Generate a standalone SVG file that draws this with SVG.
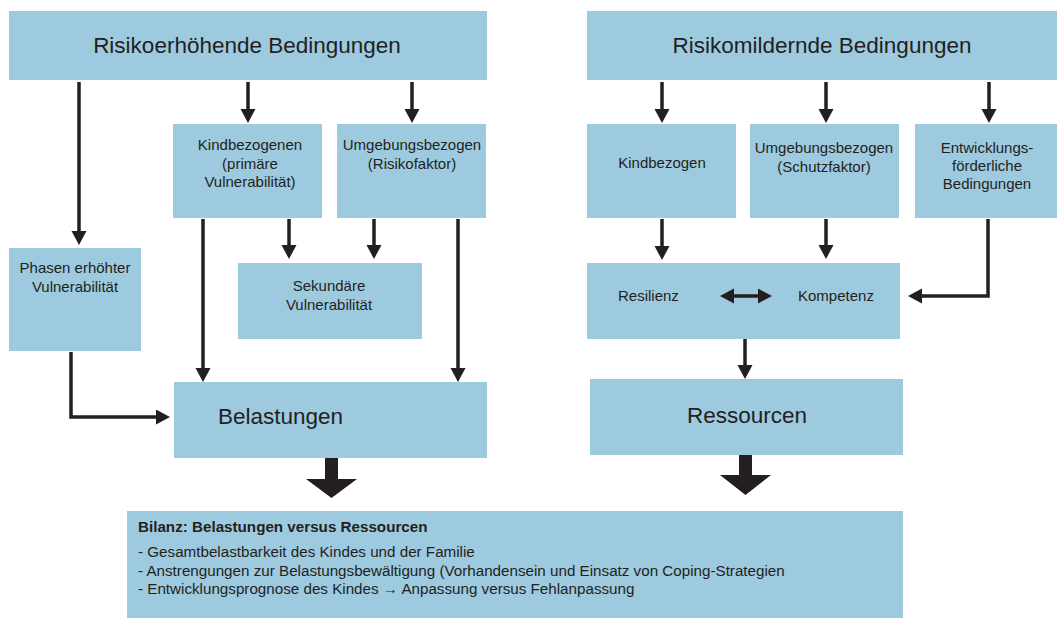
<svg xmlns="http://www.w3.org/2000/svg" width="1057" height="618" viewBox="0 0 1057 618">
<defs>
<style>
.box{fill:#9dcadf;}
.t{font-family:"Liberation Sans",Arial,sans-serif;fill:#231f20;}
.big{font-size:22.5px;}
.sm{font-size:15px;}
.bl{font-size:15.2px;}
.c{text-anchor:middle;}
.b{font-weight:bold;}
.ln{stroke:#231f20;stroke-width:3.5;fill:none;}
.blk{fill:#231f20;}
</style>
<marker id="ah" markerUnits="userSpaceOnUse" markerWidth="16" markerHeight="16" refX="6" refY="7.5" orient="auto">
<path d="M0,0 L14,7.5 L0,15 Z" fill="#231f20"/>
</marker>
<marker id="ahs" markerUnits="userSpaceOnUse" markerWidth="16" markerHeight="16" refX="6" refY="7.5" orient="auto-start-reverse">
<path d="M0,0 L14,7.5 L0,15 Z" fill="#231f20"/>
</marker>
</defs>
<rect width="1057" height="618" fill="#ffffff"/>

<g id="risikoerhoehend">
<rect class="box" x="9" y="11" width="478" height="69"/>
<text class="t big c" x="247" y="53">Risikoerhöhende Bedingungen</text>
</g>
<g id="risikomildernd">
<rect class="box" x="587" y="11" width="470" height="69"/>
<text class="t big c" x="822" y="53">Risikomildernde Bedingungen</text>
</g>
<g id="kindbezogenen">
<rect class="box" x="173" y="124" width="149" height="94"/>
<text class="t sm c" x="250" y="150">Kindbezogenen</text>
<text class="t sm c" x="250" y="168.5">(primäre</text>
<text class="t sm c" x="250" y="187">Vulnerabilität)</text>
</g>
<g id="umgebung-risiko">
<rect class="box" x="337" y="124" width="149" height="94"/>
<text class="t sm c" x="412" y="150">Umgebungsbezogen</text>
<text class="t sm c" x="412" y="168.5">(Risikofaktor)</text>
</g>
<g id="phasen">
<rect class="box" x="9" y="248" width="132" height="103"/>
<text class="t sm c" x="75" y="273">Phasen erhöhter</text>
<text class="t sm c" x="75" y="292">Vulnerabilität</text>
</g>
<g id="sekundaer">
<rect class="box" x="238" y="263" width="184" height="76"/>
<text class="t sm c" x="329" y="291">Sekundäre</text>
<text class="t sm c" x="329" y="310">Vulnerabilität</text>
</g>
<g id="belastungen">
<rect class="box" x="174" y="382" width="313" height="76"/>
<text class="t big" x="218" y="424">Belastungen</text>
</g>
<g id="kindbezogen">
<rect class="box" x="587" y="124" width="149" height="94"/>
<text class="t sm c" x="662" y="168">Kindbezogen</text>
</g>
<g id="umgebung-schutz">
<rect class="box" x="750" y="124" width="149" height="94"/>
<text class="t sm c" x="824" y="153">Umgebungsbezogen</text>
<text class="t sm c" x="824" y="171.5">(Schutzfaktor)</text>
</g>
<g id="entwicklung">
<rect class="box" x="915" y="124" width="142" height="94"/>
<text class="t sm c" x="987" y="153">Entwicklungs-</text>
<text class="t sm c" x="987" y="171">förderliche</text>
<text class="t sm c" x="987" y="189">Bedingungen</text>
</g>
<g id="resilienz-kompetenz">
<rect class="box" x="587" y="263" width="313" height="76"/>
<text class="t sm" x="618" y="301">Resilienz</text>
<text class="t sm" x="798" y="301">Kompetenz</text>
</g>
<g id="ressourcen">
<rect class="box" x="590" y="379" width="313" height="76"/>
<text class="t big c" x="747" y="423">Ressourcen</text>
</g>
<g id="bilanz">
<rect class="box" x="127" y="511" width="776" height="107"/>
<text class="t b bl" x="138" y="532">Bilanz: Belastungen versus Ressourcen</text>
<text class="t bl" x="138" y="557">- Gesamtbelastbarkeit des Kindes und der Familie</text>
<text class="t bl" x="138" y="576">- Anstrengungen zur Belastungsbewältigung (Vorhandensein und Einsatz von Coping-Strategien</text>
<text class="t bl" x="138" y="594">- Entwicklungsprognose des Kindes → Anpassung versus Fehlanpassung</text>
</g>

<g id="connectors">
<line class="ln" x1="79" y1="82" x2="79" y2="237" marker-end="url(#ah)"/>
<line class="ln" x1="248" y1="82" x2="248" y2="115" marker-end="url(#ah)"/>
<line class="ln" x1="412" y1="82" x2="412" y2="115" marker-end="url(#ah)"/>
<line class="ln" x1="203" y1="219" x2="203" y2="374" marker-end="url(#ah)"/>
<line class="ln" x1="289" y1="219" x2="289" y2="251" marker-end="url(#ah)"/>
<line class="ln" x1="374" y1="219" x2="374" y2="251" marker-end="url(#ah)"/>
<line class="ln" x1="458" y1="219" x2="458" y2="374" marker-end="url(#ah)"/>
<polyline class="ln" points="71,352 71,417 162,417" marker-end="url(#ah)"/>
<line class="ln" x1="662" y1="82" x2="662" y2="115" marker-end="url(#ah)"/>
<line class="ln" x1="826" y1="82" x2="826" y2="115" marker-end="url(#ah)"/>
<line class="ln" x1="989" y1="82" x2="989" y2="115" marker-end="url(#ah)"/>
<line class="ln" x1="662" y1="219" x2="662" y2="252" marker-end="url(#ah)"/>
<line class="ln" x1="826" y1="219" x2="826" y2="251" marker-end="url(#ah)"/>
<polyline class="ln" points="988,219 988,296 916,296" marker-end="url(#ah)"/>
<line class="ln" x1="728" y1="296" x2="764" y2="296" marker-start="url(#ahs)" marker-end="url(#ah)"/>
<line class="ln" x1="745" y1="339" x2="745" y2="371" marker-end="url(#ah)"/>
<polygon class="blk" points="325,458 338,458 338,479 357,479 331.5,498 306,479 325,479"/>
<polygon class="blk" points="739,455 752,455 752,475 771,475 745.5,495 720,475 739,475"/>
</g>
</svg>
